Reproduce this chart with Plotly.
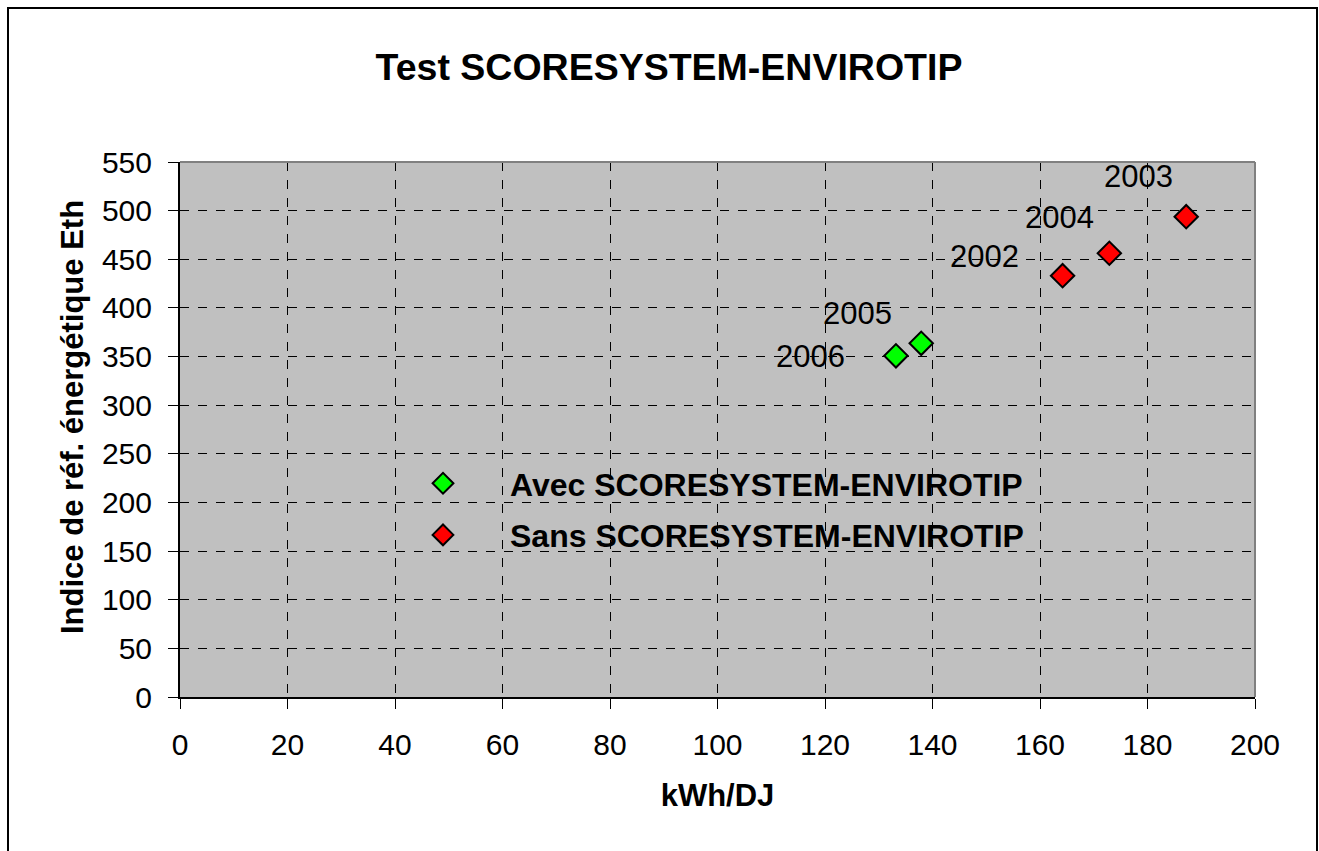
import plotly.graph_objects as go

# Data
avec_x = [133.2, 137.9]
avec_y = [350.8, 363.6]
avec_labels = ["2006", "2005"]
sans_x = [164.2, 172.9, 187.2]
sans_y = [433.1, 456.2, 493.8]
sans_labels = ["2002", "2004", "2003"]
x_ticks = list(range(0, 201, 20))
y_ticks = list(range(0, 551, 50))

# label offsets (pixels) relative to points
avec_off = [(-85, 1), (-64, -30)]
sans_off = [(-78, -19), (-50, -36), (-48, -40)]

W, H = 1319, 851
L, R, T, B = 180, 64, 162, 154
FONT = "Liberation Sans, Arial, sans-serif"

fig = go.Figure()
fig.add_trace(go.Scatter(x=avec_x, y=avec_y, mode="markers", name="<b>Avec SCORESYSTEM-ENVIROTIP</b>",
                         legendgroup="a",
                         marker=dict(symbol="diamond", size=18, color="#00FF00",
                                     line=dict(color="black", width=2))))
fig.add_trace(go.Scatter(x=sans_x, y=sans_y, mode="markers", name="<b>Sans SCORESYSTEM-ENVIROTIP</b>",
                         legendgroup="b",
                         marker=dict(symbol="diamond", size=18, color="#FF0000",
                                     line=dict(color="black", width=2))))

pw, ph = W - L - R, H - T - B
def px2x(p): return (p - L) / pw
def py2y(p): return (H - B - p) / ph

anns = []
for xs, ys, labs, offs in [(avec_x, avec_y, avec_labels, avec_off), (sans_x, sans_y, sans_labels, sans_off)]:
    for x, y, lab, (dx, dy) in zip(xs, ys, labs, offs):
        anns.append(dict(x=x, y=y, xref="x", yref="y", text=lab, showarrow=False,
                         xshift=dx, yshift=-dy, font=dict(family=FONT, size=31, color="black")))
anns.append(dict(x=px2x(72), y=py2y(417), xref="paper", yref="paper", showarrow=False,
                 text="<b>Indice de réf. énergétique Eth</b>", textangle=-90,
                 xanchor="center", yanchor="middle", font=dict(family=FONT, size=31, color="black")))

fig.update_layout(
    width=W, height=H,
    margin=dict(l=L, r=R, t=T, b=B, autoexpand=False),
    paper_bgcolor="white", plot_bgcolor="#C0C0C0",
    font=dict(family=FONT, size=30, color="black"),
    title=dict(text="<b>Test SCORESYSTEM-ENVIROTIP</b>", x=669 / W, xanchor="center",
               y=1 - 67 / H, yanchor="middle", font=dict(size=37.5, family=FONT)),
    showlegend=True,
    legend=dict(x=px2x(376), y=py2y(456), xanchor="left", yanchor="top",
                bgcolor="rgba(0,0,0,0)", font=dict(size=32, family=FONT),
                traceorder="grouped", tracegroupgap=7, itemwidth=124),
    annotations=anns,
    shapes=[dict(type="rect", xref="paper", yref="paper",
                 x0=px2x(8), x1=px2x(1317), y0=py2y(856), y1=py2y(8),
                 line=dict(color="black", width=2), fillcolor="rgba(0,0,0,0)", layer="below"),
            dict(type="line", xref="paper", yref="paper", x0=0, x1=1, y0=1, y1=1,
                 line=dict(color="#808080", width=2)),
            dict(type="line", xref="paper", yref="paper", x0=1, x1=1, y0=0, y1=1,
                 line=dict(color="#808080", width=2))],
)
fig.update_xaxes(range=[0, 200], tickvals=x_ticks, showgrid=True, gridcolor="black", griddash="dash",
                 gridwidth=1, zeroline=False, showline=True, linecolor="black", linewidth=2,
                 ticks="outside", ticklen=10, tickcolor="black", tickfont=dict(size=30),
                 ticklabelstandoff=10,
                 title=dict(text="<b>kWh/DJ</b>", font=dict(size=31), standoff=24))
fig.update_yaxes(range=[0, 550], tickvals=y_ticks, showgrid=True, gridcolor="black", griddash="dash",
                 gridwidth=1, zeroline=False, showline=True, linecolor="black", linewidth=2,
                 ticks="outside", ticklen=10, tickcolor="black", tickfont=dict(size=30),
                 ticklabelstandoff=10)

fig.write_html("out.html", post_script="document.body.style.margin='0';",
               config={"displayModeBar": False})
